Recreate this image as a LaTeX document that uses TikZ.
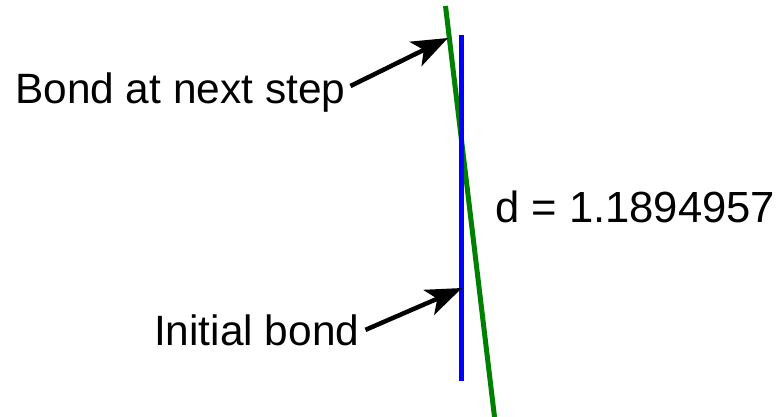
\documentclass[tikz,border=0pt]{standalone}
\usepackage{fontspec}
\setmainfont{Liberation Sans}
\usetikzlibrary{arrows.meta}
\definecolor{bondgreen}{RGB}{0,128,0}
\definecolor{bondblue}{RGB}{0,0,255}
\tikzset{
  lbl/.style={inner sep=0pt, font=\fontsize{42.4}{50}\selectfont, text=black},
  pointer/.style={line width=4.5pt, draw=black, -{Stealth[length=36pt,width=27pt,inset=9pt]}},
  bondline/.style={line width=5pt}
}
\begin{document}
\begin{tikzpicture}[x=1pt,y=-1pt]
\useasboundingbox (0,0) rectangle (781,417);
% bonds
\coordinate (gtop) at (445.5,6);
\coordinate (gbot) at (494.5,417);
\coordinate (btop) at (461.8,35);
\coordinate (bbot) at (461.8,381);
\draw[bondline, bondgreen] (gtop) -- (gbot);
\draw[bondline, bondblue] (btop) -- (bbot);
% labels
\node[lbl, anchor=base west] (next) at (15,103) {Bond at next step};
\node[lbl, anchor=base west] (init) at (154,345) {Initial bond};
\node[lbl, anchor=base west, font=\fontsize{43.6}{50}\selectfont] (dist) at (495,222) {d = 1.1894957};
% arrows
\coordinate (tail1) at ([xshift=5pt,yshift=6pt]next.east);
\coordinate (tip1) at (448,38);
\coordinate (tail2) at ([xshift=6pt,yshift=0pt]init.east);
\coordinate (tip2) at (462,288);
\draw[pointer] (tail1) -- (tip1);
\draw[pointer] (tail2) -- (tip2);
\end{tikzpicture}
\end{document}
